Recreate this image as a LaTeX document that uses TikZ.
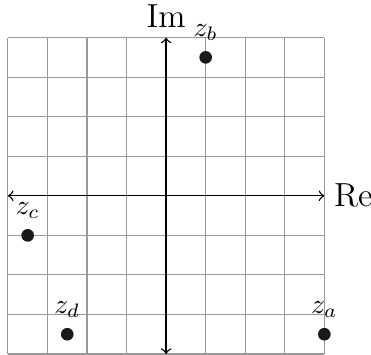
\documentclass[tikz,border=0pt]{standalone}
\begin{document}
\begin{tikzpicture}[x=0.5cm, y=0.5cm,
	point/.style={shape=circle, fill=black!90, inner sep=0pt, minimum size=0.16cm}]
	\useasboundingbox (-4.2, -4.0) rectangle (5.18, 4.95);
	\draw[gray!80, line width=0.4pt, step=0.5cm] (-4, -4) grid (4, 4);
	\coordinate (west) at (-4, 0);
	\coordinate (east) at (4, 0);
	\coordinate (south) at (0, -4);
	\coordinate (north) at (0, 4);
	\draw[line width=0.5pt, <->] (west) -- (east);
	\draw[line width=0.5pt, <->] (south) -- (north);
	\node[anchor=west, font=\large] (re) at (east) {Re};
	\node[anchor=south, font=\large] (im) at (north) {Im};
	\node[point, label={above:$z_a$}] (za) at (4, -3.5) {};
	\node[point, label={above:$z_b$}] (zb) at (1, 3.5) {};
	\node[point, label={above:$z_c$}] (zc) at (-3.5, -1) {};
	\node[point, label={above:$z_d$}] (zd) at (-2.5, -3.5) {};
\end{tikzpicture}
\end{document}
